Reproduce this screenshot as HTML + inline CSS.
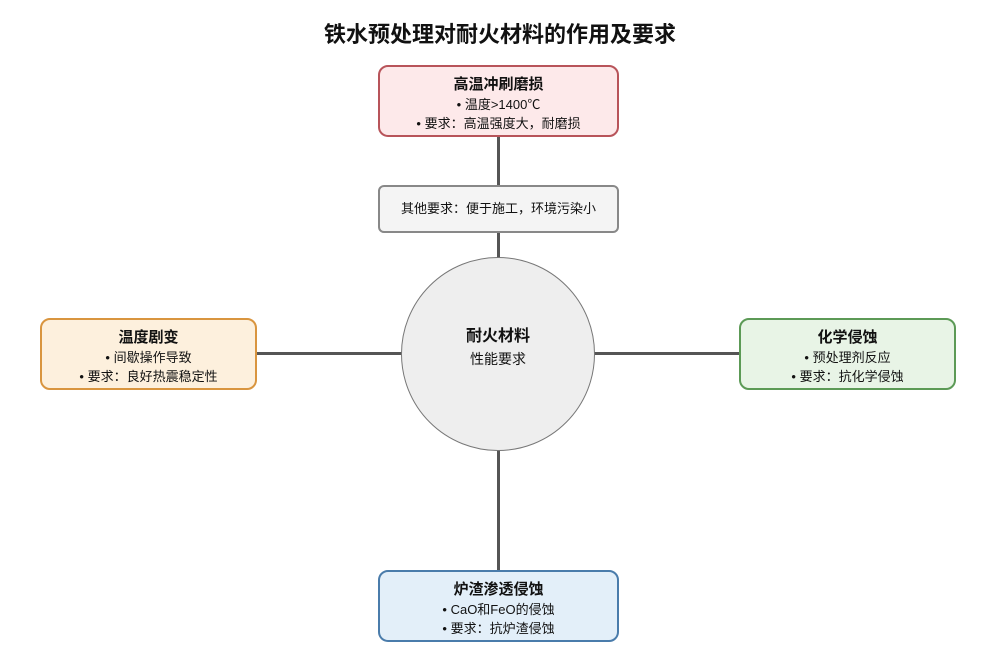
<!DOCTYPE html>
<html><head><meta charset="utf-8"><style>
html,body{margin:0;padding:0;background:#fff;}
body{width:1000px;height:656px;position:relative;overflow:hidden;font-family:"Liberation Sans","Noto Sans CJK SC",sans-serif;color:#111;}
.t{position:absolute;left:0;width:1000px;top:17px;text-align:center;font-size:22px;font-weight:bold;}
.b{position:absolute;box-sizing:border-box;border-radius:10px;border:2px solid;text-align:center;}
.b h{display:block;font-weight:bold;font-size:15px;margin-top:8px;line-height:20px;}
.b p{margin:0;font-size:13px;line-height:19px;}
.l{position:absolute;background:#555;}
</style></head><body>
<div class="t">铁水预处理对耐火材料的作用及要求</div>
<div class="l" style="left:497px;top:137px;width:3px;height:48px"></div>
<div class="l" style="left:497px;top:233px;width:3px;height:25px"></div>
<div class="l" style="left:497px;top:450px;width:3px;height:120px"></div>
<div class="l" style="left:257px;top:352px;width:145px;height:3px"></div>
<div class="l" style="left:594px;top:352px;width:145px;height:3px"></div>
<div class="b" style="left:378px;top:65px;width:241px;height:72px;background:#fde9ea;border-color:#b8545a"><h>高温冲刷磨损</h><p>• 温度&gt;1400℃</p><p>• 要求：高温强度大，耐磨损</p></div>
<div class="b" style="left:378px;top:185px;width:241px;height:48px;background:#f4f4f4;border-color:#888;border-radius:6px"><p style="line-height:44px;font-size:13px">其他要求：便于施工，环境污染小</p></div>
<div style="position:absolute;left:401px;top:257px;width:194px;height:194px;box-sizing:border-box;border-radius:50%;border:1.5px solid #777;background:#eee;text-align:center">
<div style="margin-top:68px;font-weight:bold;font-size:16px;line-height:22px">耐火材料</div><div style="font-size:14px;line-height:22px">性能要求</div></div>
<div class="b" style="left:40px;top:318px;width:217px;height:72px;background:#fdf0dd;border-color:#d9953f"><h>温度剧变</h><p>• 间歇操作导致</p><p>• 要求：良好热震稳定性</p></div>
<div class="b" style="left:739px;top:318px;width:217px;height:72px;background:#e8f4e6;border-color:#5c9a56"><h>化学侵蚀</h><p>• 预处理剂反应</p><p>• 要求：抗化学侵蚀</p></div>
<div class="b" style="left:378px;top:570px;width:241px;height:72px;background:#e3eff9;border-color:#4a7cab"><h>炉渣渗透侵蚀</h><p>• CaO和FeO的侵蚀</p><p>• 要求：抗炉渣侵蚀</p></div>
</body></html>
